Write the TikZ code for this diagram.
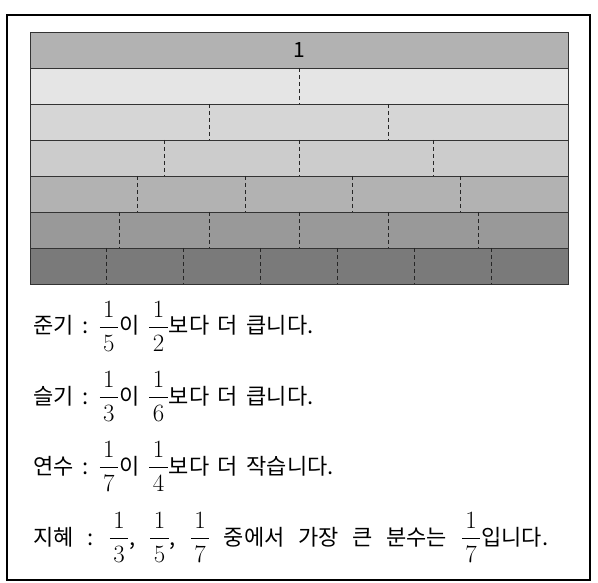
\documentclass[tikz,border=0pt]{standalone}
\usepackage{fontspec}
\usepackage{amsmath}
\newfontfamily\kr{Noto Sans CJK KR}
\usetikzlibrary{positioning}
\tikzstyle{band} = [draw=black!80, line width=0.8pt]
\tikzstyle{cut} = [draw=black!85, line width=0.8pt, dash pattern=on 4pt off 3pt]
\tikzstyle{say} = [anchor=base west, inner sep=0pt,
    font=\kr\fontsize{22}{26}\selectfont,
    execute at begin node={\spaceskip=0.39em\relax}]
\newcommand{\pc}[2]{{\fontsize{23}{27}\selectfont
    $\dfrac{\hspace{0.15em}#1\hspace{0.15em}}{\hspace{0.15em}#2\hspace{0.15em}}$}}

\begin{document}
\begin{tikzpicture}[x=1pt,y=-1pt]
  \useasboundingbox (0,0) rectangle (598,583);
  \draw[line width=2pt] (7,15) rectangle (590,580);

  % the whole strip
  \draw[band,fill=black!30] (30,32) rectangle (568,68);
  \node[font=\kr\fontsize{21}{24}\selectfont] (whole) at (299,50) {1};

  % strips cut into 2 to 7 equal parts
  \foreach \n/\c in {2/10, 3/16, 4/20, 5/30, 6/40, 7/52} {
    \pgfmathsetmacro\top{32+36*(\n-1)}
    \pgfmathtruncatemacro\m{\n-1}
    \draw[band,fill=black!\c] (30,\top) rectangle (568,\top+36);
    \foreach \k in {1,...,\m}
      \draw[cut] (30+538*\k/\n,\top) -- (30+538*\k/\n,\top+36);
  }

  \node[say] (junki) at (33,334)
    {준기 : \pc{1}{5}이 \pc{1}{2}보다 더 큽니다.};
  \node[say] (seulgi) at (33,404)
    {슬기 : \pc{1}{3}이 \pc{1}{6}보다 더 큽니다.};
  \node[say] (yeonsu) at (33,474)
    {연수 : \pc{1}{7}이 \pc{1}{4}보다 더 작습니다.};
  \node[say,execute at begin node={\spaceskip=0.62em\relax}] (jihye) at (33,545)
    {지혜 : \pc{1}{3}, \pc{1}{5}, \pc{1}{7} 중에서 가장 큰 분수는 \pc{1}{7}입니다.};
\end{tikzpicture}
\end{document}
